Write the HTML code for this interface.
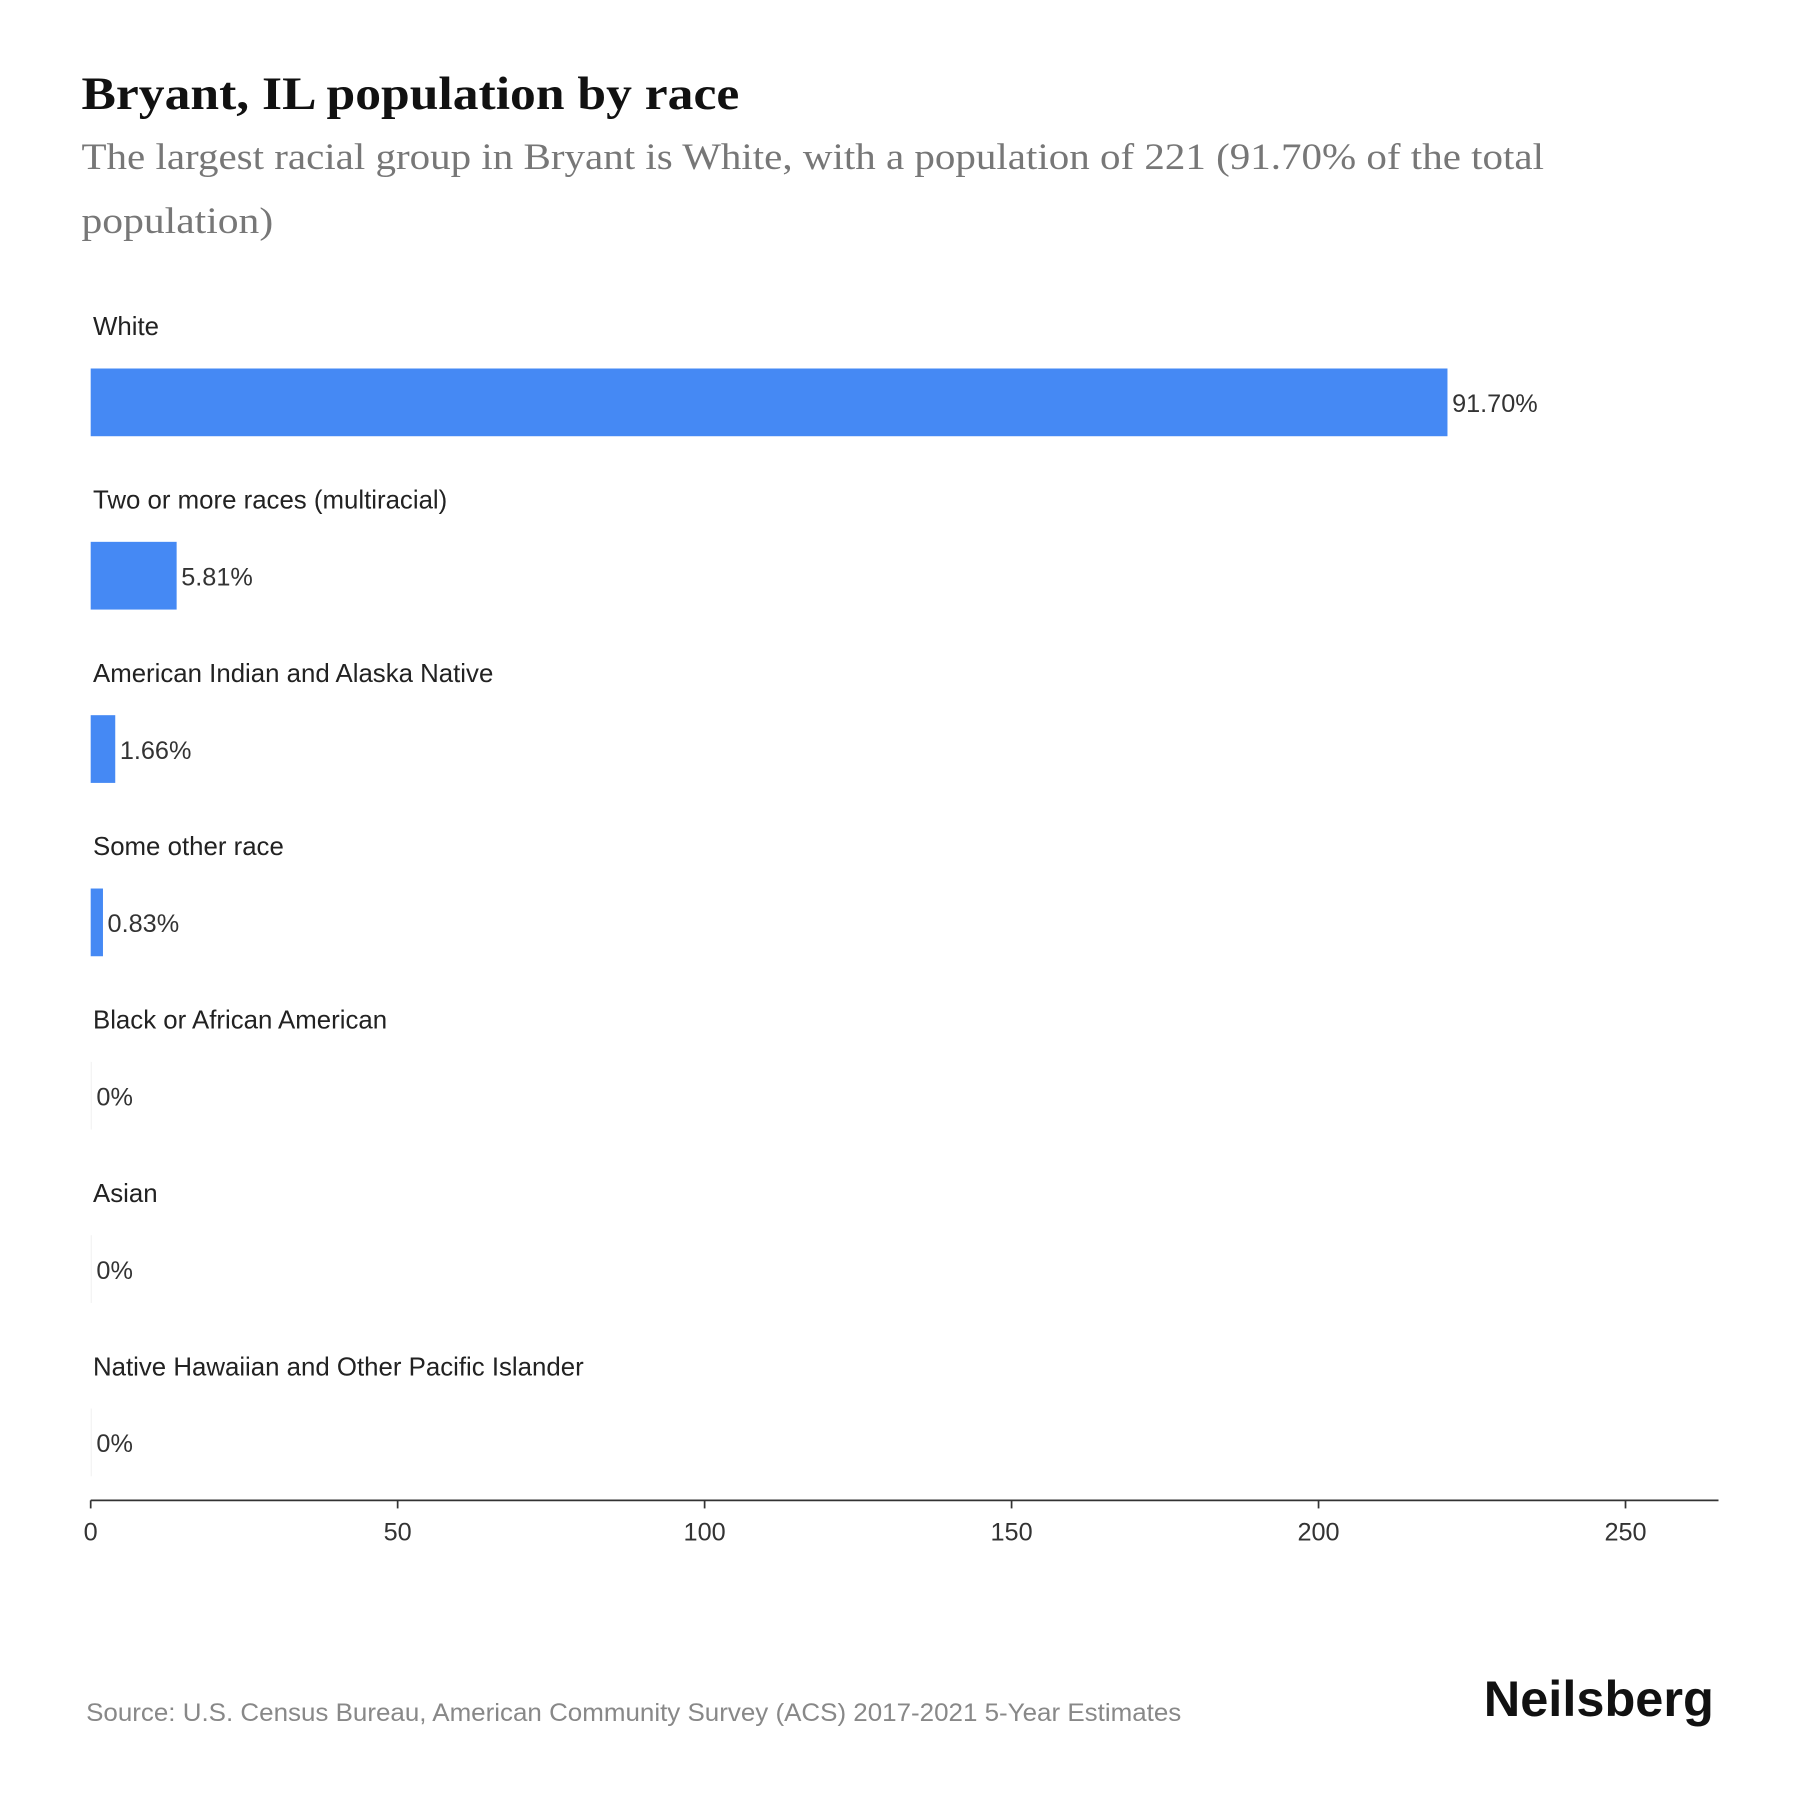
<!DOCTYPE html>
<html><head><meta charset="utf-8"><style>
html,body{margin:0;padding:0;background:#fff;}
svg{display:block;}
</style></head><body>
<svg id="chart" width="1800" height="1800" viewBox="0 0 1568 1568" xmlns="http://www.w3.org/2000/svg">
<rect width="1568" height="1568" fill="#fff"/>
<text x="71" y="95" font-family="Liberation Serif, serif" font-weight="bold" font-size="41" fill="#111" textLength="573" lengthAdjust="spacingAndGlyphs">Bryant, IL population by race</text>
<text font-family="Liberation Serif, serif" font-size="32" fill="#777"><tspan x="71" y="147" textLength="1274" lengthAdjust="spacingAndGlyphs">The largest racial group in Bryant is White, with a population of 221 (91.70% of the total</tspan><tspan x="71" y="203" textLength="167" lengthAdjust="spacingAndGlyphs">population)</tspan></text>
<g id="bars"></g>
<g id="axis"></g>
<text x="75" y="1499" font-family="Liberation Sans, sans-serif" font-size="22" fill="#888" textLength="954" lengthAdjust="spacingAndGlyphs">Source: U.S. Census Bureau, American Community Survey (ACS) 2017-2021 5-Year Estimates</text>
<text x="1493" y="1495" text-anchor="end" font-family="Liberation Sans, sans-serif" font-weight="bold" font-size="44" fill="#111">Neilsberg</text>
</svg>
<script>
const categories = ["White","Two or more races (multiracial)","American Indian and Alaska Native","Some other race","Black or African American","Asian","Native Hawaiian and Other Pacific Islander"];
const values = [221,14,4,2,0,0,0];
const valueLabels = ["91.70%","5.81%","1.66%","0.83%","0%","0%","0%"];
const ticks = [0,50,100,150,200,250];
const NS="http://www.w3.org/2000/svg";
const x0=79, pxPer=1337/250;
const xs=v=>x0+v*pxPer;
const ys=i=>321+i*151;
function mk(t,a,p){const e=document.createElementNS(NS,t);for(const k in a)e.setAttribute(k,a[k]);p.appendChild(e);return e;}
const bars=document.getElementById('bars');
categories.forEach((c,i)=>{
  const y=ys(i);
  const lab=mk('text',{x:81,y:y-29,'font-family':'Liberation Sans, sans-serif','font-size':22.5,fill:'#222'},bars);
  
  
  lab.textContent=c;
  const w=Math.max(xs(values[i])-x0, values[i]>0?0:1);
  const r=mk('rect',{x:x0,y:y,width:w,height:59,fill:values[i]>0?'#4589f4':'#f2f2f2'},bars);
  
  
  const vt=mk('text',{x:x0+w+4,y:y+38,'font-family':'Liberation Sans, sans-serif','font-size':22,fill:'#333'},bars);
  
  
  vt.textContent=valueLabels[i];
});
const ax=document.getElementById('axis');
const line=mk('line',{x1:x0,x2:1497,y1:1307,y2:1307,stroke:'#333','stroke-width':1.5},ax);


ticks.forEach(t=>{
  const tl=mk('line',{x1:xs(t),x2:xs(t),y1:1307,y2:1314,stroke:'#333','stroke-width':1.5},ax);
  
  
  const tt=mk('text',{x:xs(t),y:1342,'text-anchor':'middle','font-family':'Liberation Sans, sans-serif','font-size':22,fill:'#333'},ax);
  
  
  tt.textContent=t;
});
</script>
</body></html>
